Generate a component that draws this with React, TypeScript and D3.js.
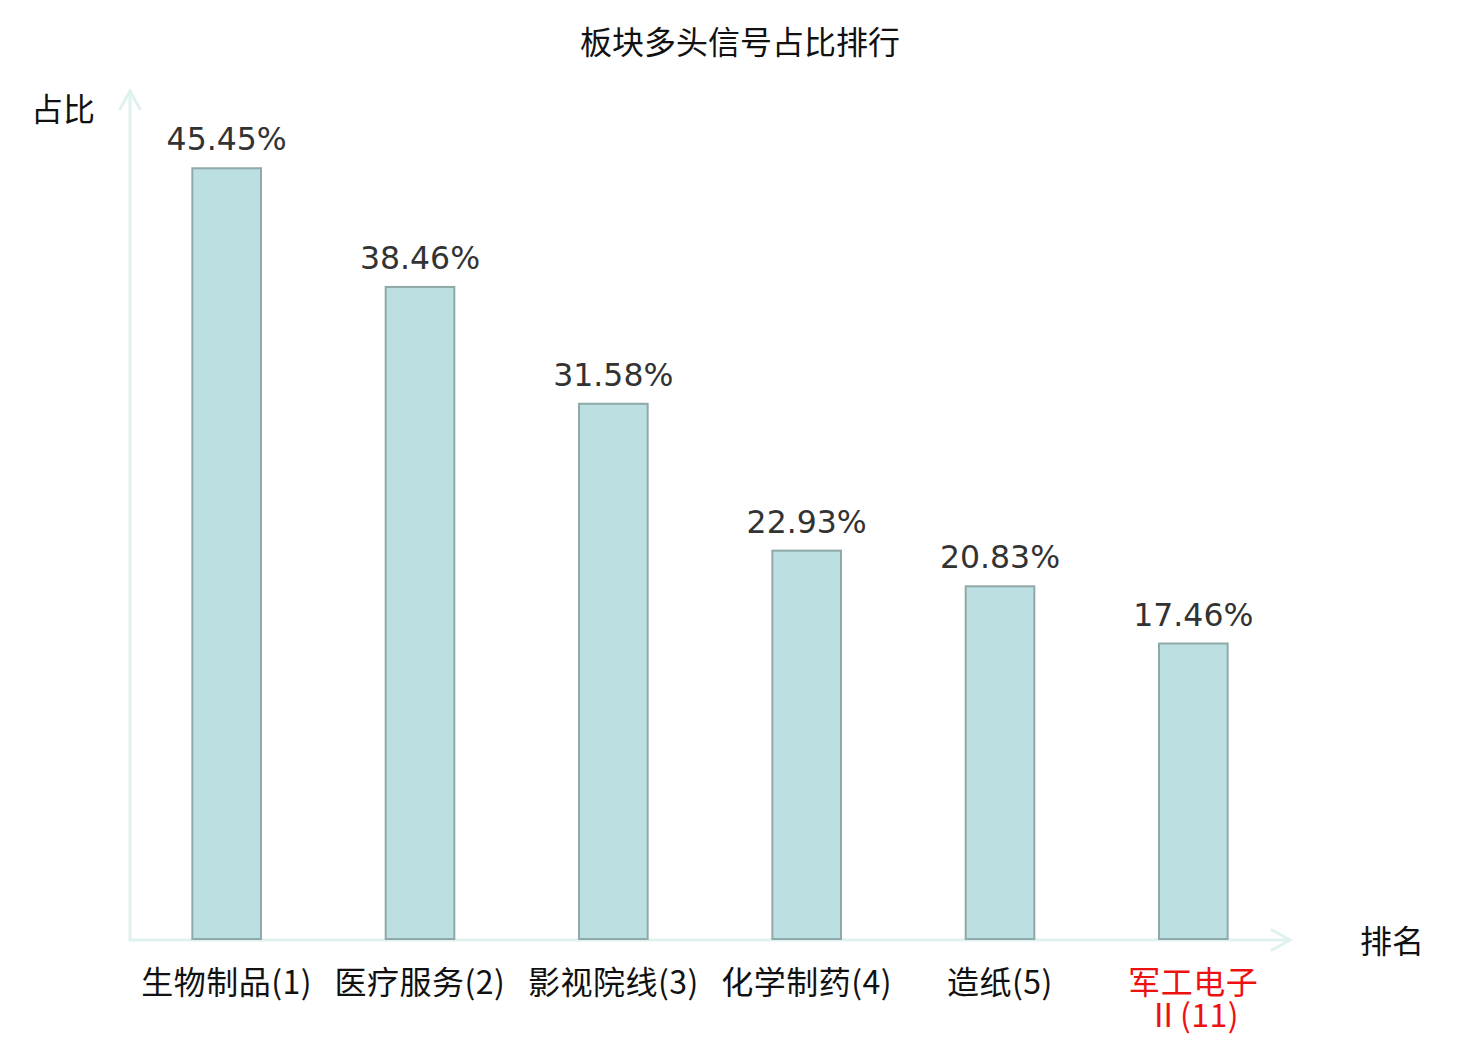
import React from 'react';
import * as d3 from 'd3';

// chart data
const categories = ['生物制品(1)', '医疗服务(2)', '影视院线(3)', '化学制药(4)', '造纸(5)', '军工电子Ⅱ(11)'];
const labelLines = [['生物制品(1)'], ['医疗服务(2)'], ['影视院线(3)'], ['化学制药(4)'], ['造纸(5)'], ['军工电子', 'Ⅱ(11)']];
const ratios = [45.45, 38.46, 31.58, 22.93, 20.83, 17.46];
const highlighted = ['军工电子Ⅱ(11)'];

const width = 1480;
const height = 1040;
const axisColor = '#dff2ef';
const cjk = '"Noto Sans CJK SC", "Noto Sans", sans-serif';
const latin = '"DejaVu Sans", sans-serif';

const App: React.FC = () => {
    const x = d3.scaleBand<string>()
        .domain(categories)
        .range([130, 1290])
        .padding(0);
    const y = d3.scaleLinear()
        .domain([0, 50])
        .range([940, 91]);

    const barW = x.bandwidth() * 0.355;
    const x0 = 130;
    const y0 = y(0);
    const yTop = y(50);
    const xEnd = 1290;

    return (
        <svg width={width} height={height} viewBox={`0 0 ${width} ${height}`}
            style={{ position: 'absolute', left: 0, top: 0, background: '#fff' }}>
            {/* title */}
            <text x={width / 2} y={54} textAnchor="middle" fontFamily={cjk} fontSize={32} fill="#111">
                板块多头信号占比排行
            </text>

            {/* axes with arrows */}
            <g stroke={axisColor} strokeWidth={3} fill="none" strokeLinecap="round">
                <line x1={x0} y1={y0} x2={x0} y2={yTop} />
                <polyline points={`${x0 - 10},${yTop + 18} ${x0},${yTop} ${x0 + 10},${yTop + 18}`} />
                <line x1={x0} y1={y0} x2={xEnd} y2={y0} />
                <polyline points={`${xEnd - 18},${y0 - 10} ${xEnd},${y0} ${xEnd - 18},${y0 + 10}`} />
            </g>

            {/* axis names */}
            <text x={63} y={121} textAnchor="middle" fontFamily={cjk} fontSize={32} fill="#111">占比</text>
            <text x={1392} y={953} textAnchor="middle" fontFamily={cjk} fontSize={32} fill="#111">排名</text>

            {/* bars */}
            {categories.map((c, i) => {
                const cx = (x(c) as number) + x.bandwidth() / 2;
                return (
                    <g key={c}>
                        <rect x={cx - barW / 2} y={y(ratios[i])} width={barW} height={y0 - y(ratios[i]) - 1}
                            fill="#bce0e2" stroke="#8fa8a8" strokeWidth={2} />
                        <text x={cx} y={y(ratios[i]) - 18} textAnchor="middle" fontFamily={latin}
                            fontSize={31.5} fill="#333">
                            {ratios[i].toFixed(2)}%
                        </text>
                        {labelLines[i].map((ln, j) => (
                            <text key={j} x={cx} y={994 + j * 33} textAnchor="middle" fontFamily={cjk}
                                fontSize={32} letterSpacing={0.5}
                                fill={highlighted.includes(c) ? '#ee1111' : '#111'}>
                                {ln}
                            </text>
                        ))}
                    </g>
                );
            })}
        </svg>
    );
};

export default App;
